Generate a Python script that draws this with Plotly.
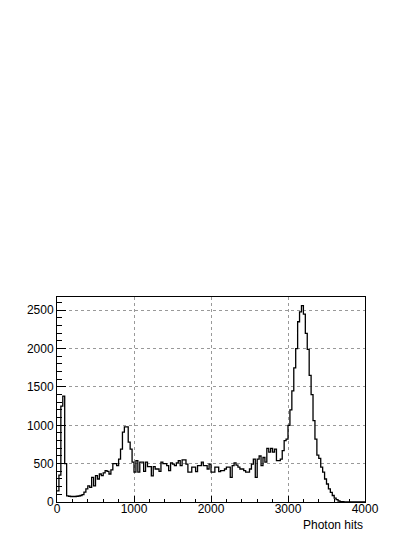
import numpy as np
import plotly.graph_objects as go

# Histogram of photon hits: 160 bins of width 25 from 0 to 4000
bin_width = 25
x_min, x_max = 0, 4000
counts = [
    145, 350, 1250, 1380, 500, 80, 75, 72, 72, 72,
    75, 78, 85, 95, 130, 170, 210, 190, 320, 210,
    345, 300, 365, 345, 380, 410, 400, 365, 420, 500,
    500, 475, 560, 690, 910, 980, 980, 780, 690, 520,
    390, 540, 390, 520, 520, 400, 520, 460, 460, 340,
    460, 430, 430, 400, 520, 500, 500, 475, 410, 510,
    495, 475, 510, 540, 475, 550, 550, 495, 390, 390,
    455, 455, 395, 475, 475, 520, 475, 475, 430, 495,
    390, 390, 455, 455, 395, 410, 410, 430, 455, 455,
    322, 475, 510, 480, 455, 430, 430, 410, 390, 390,
    430, 495, 560, 320, 560, 600, 475, 580, 520, 700,
    650, 700, 650, 690, 540, 540, 560, 670, 800, 820,
    1000, 1200, 1450, 1750, 2000, 2350, 2480, 2560, 2450, 2200,
    1990, 1650, 1400, 1060, 820, 610, 570, 455, 390, 300,
    235, 170, 125, 85, 50, 30, 13, 6, 4, 2,
    0, 0, 0, 0, 0, 0, 0, 0, 0, 0,
]
y_max = 2673

x_ticks = [0, 1000, 2000, 3000, 4000]
y_ticks = [0, 500, 1000, 1500, 2000, 2500]
x_title = "Photon hits"

edges = np.arange(x_min, x_max + bin_width, bin_width)
step_x = list(edges)
step_y = counts + [counts[-1]]

FONT = "Liberation Sans, Arial, Helvetica, sans-serif"

fig = go.Figure()
fig.add_trace(go.Scatter(
    x=step_x,
    y=step_y,
    mode="lines",
    line=dict(color="black", width=1.3, shape="hv"),
    showlegend=False,
    hoverinfo="skip",
))

axis_common = dict(
    showline=True,
    linecolor="black",
    linewidth=1,
    mirror=True,
    ticks="inside",
    tickcolor="black",
    showgrid=True,
    gridcolor="#999999",
    griddash="dot",
    gridwidth=1,
    zeroline=False,
    tickfont=dict(family=FONT, size=12, color="black"),
)

fig.update_xaxes(
    range=[x_min, x_max],
    tickvals=x_ticks,
    ticklen=6,
    ticklabelstandoff=-4,
    minor=dict(ticks="inside", dtick=200, ticklen=3, tickcolor="black", showgrid=False),
    **axis_common,
)
fig.update_yaxes(
    range=[0, y_max],
    tickvals=y_ticks,
    ticklen=9,
    minor=dict(ticks="inside", dtick=100, ticklen=4.5, tickcolor="black", showgrid=False),
    **axis_common,
)

fig.add_annotation(
    text=x_title,
    xref="paper", yref="paper",
    x=1, y=0,
    xanchor="right", yanchor="top",
    yshift=-14,
    showarrow=False,
    font=dict(family=FONT, size=12, color="black"),
)

# the page body adds an 8px offset, so the figure is a bit smaller than the window
fig.update_layout(
    width=407,
    height=529,
    margin=dict(l=49, r=50, t=289, b=34.5),
    paper_bgcolor="white",
    plot_bgcolor="white",
)

fig.write_html("out.html")
